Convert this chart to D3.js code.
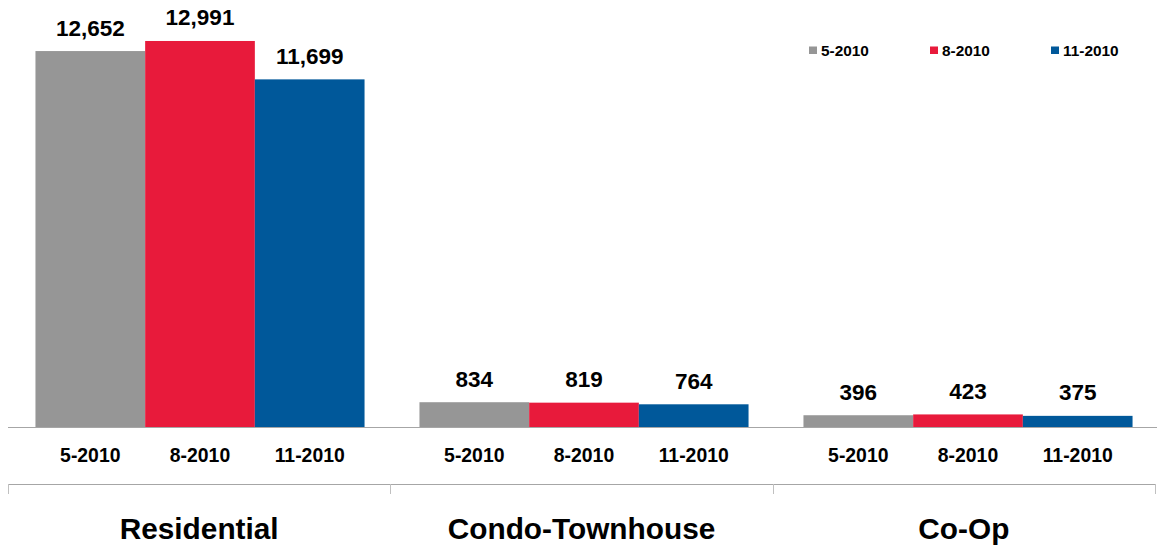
<!DOCTYPE html>
<html>
<head>
<meta charset="utf-8">
<script src="https://cdn.jsdelivr.net/npm/d3@7"></script>
<style>
  html, body { margin: 0; padding: 0; background: #fff; }
  svg { display: block; font-family: "Liberation Sans", Arial, sans-serif; }
</style>
</head>
<body>
<svg id="chart" width="1157" height="548"></svg>
<script>
const categories = ["Residential", "Condo-Townhouse", "Co-Op"];
const seriesNames = ["5-2010", "8-2010", "11-2010"];
const values_5_2010 = [12652, 834, 396];
const values_8_2010 = [12991, 819, 423];
const values_11_2010 = [11699, 764, 375];
const seriesValues = [values_5_2010, values_8_2010, values_11_2010];
const colors = ["#969696", "#e81a3b", "#00589a"];

const svg = d3.select("#chart");
const baseY = 427;

const y = d3.scaleLinear().domain([0, 14000]).range([baseY, 11]);

// category bands for the lower axis
const xCat = d3.scaleBand().domain(categories).range([8, 1155]);
// bar group positions
const xGroup = d3.scaleBand().domain(categories).range([8, 1160])
  .paddingInner(0.143).paddingOuter(0.0715);
const xSeries = d3.scaleBand().domain(seriesNames).range([0, xGroup.bandwidth()]);

const fmt = d3.format(",");

const groups = svg.selectAll("g.grp").data(categories).join("g")
  .attr("class", "grp")
  .attr("transform", c => `translate(${xGroup(c)},0)`);

groups.each(function(c, ci) {
  const g = d3.select(this);
  seriesNames.forEach((s, si) => {
    const v = seriesValues[si][ci];
    g.append("rect")
      .attr("x", xSeries(s))
      .attr("y", y(v))
      .attr("width", xSeries.bandwidth())
      .attr("height", baseY - y(v))
      .attr("fill", colors[si]);
    g.append("text")
      .attr("x", xSeries(s) + xSeries.bandwidth() / 2)
      .attr("y", y(v) - 15.5)
      .attr("text-anchor", "middle")
      .attr("font-weight", "bold")
      .attr("font-size", 22.5)
      .attr("fill", "#000")
      .text(fmt(v));
    g.append("text")
      .attr("x", xSeries(s) + xSeries.bandwidth() / 2)
      .attr("y", 462)
      .attr("text-anchor", "middle")
      .attr("font-weight", "bold")
      .attr("font-size", 19.4)
      .attr("fill", "#000")
      .text(s);
  });
});

// baseline axis
svg.append("line")
  .attr("x1", 8).attr("x2", 1157)
  .attr("y1", baseY + 0.5).attr("y2", baseY + 0.5)
  .attr("stroke", "#a6a6a6").attr("stroke-width", 1);

// lower category axis
const lowerY = 484;
svg.append("line")
  .attr("x1", 8).attr("x2", 1155)
  .attr("y1", lowerY + 0.5).attr("y2", lowerY + 0.5)
  .attr("stroke", "#a6a6a6").attr("stroke-width", 1);

const tickXs = categories.map(c => xCat(c)).concat([xCat.range()[1]]);
svg.selectAll("line.sep").data(tickXs).join("line")
  .attr("class", "sep")
  .attr("x1", d => Math.round(d) + 0.5).attr("x2", d => Math.round(d) + 0.5)
  .attr("y1", lowerY).attr("y2", lowerY + 10)
  .attr("stroke", "#c0c0c0").attr("stroke-width", 1);

svg.selectAll("text.cat").data(categories).join("text")
  .attr("class", "cat")
  .attr("x", c => xCat(c) + xCat.bandwidth() / 2)
  .attr("y", 539)
  .attr("text-anchor", "middle")
  .attr("font-weight", "bold")
  .attr("font-size", 29.8)
  .attr("fill", "#000")
  .text(c => c);

// legend
const legend = svg.append("g").attr("transform", "translate(809,0)");
seriesNames.forEach((s, i) => {
  const lg = legend.append("g").attr("transform", `translate(${i * 121},0)`);
  lg.append("rect").attr("x", 0).attr("y", 46.5).attr("width", 8).attr("height", 7.5)
    .attr("fill", colors[i]);
  lg.append("text").attr("x", 12).attr("y", 56)
    .attr("font-weight", "bold").attr("font-size", 15.4).attr("fill", "#000")
    .text(s);
});
</script>
</body>
</html>
